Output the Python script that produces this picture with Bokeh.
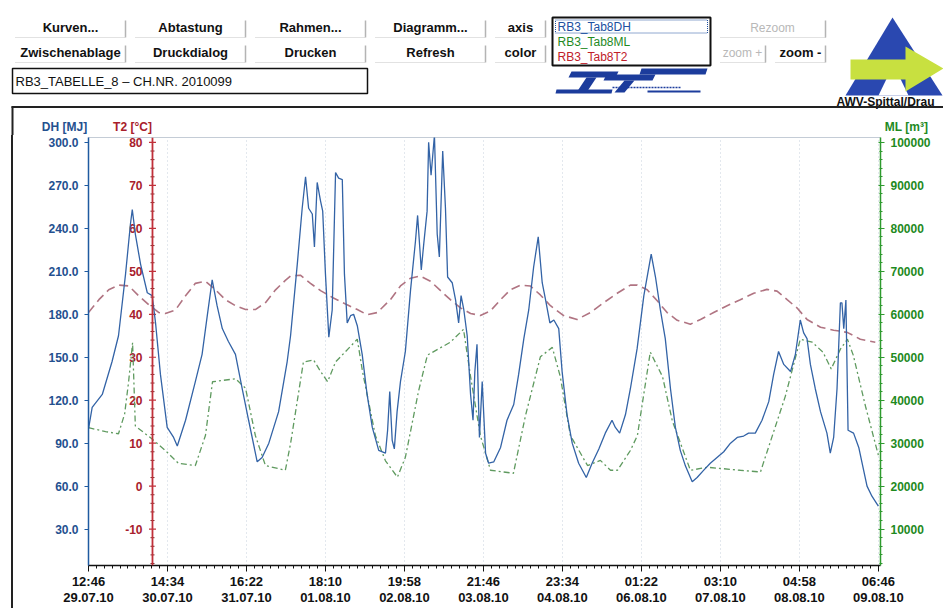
import numpy as np
from bokeh.plotting import figure
from bokeh.models import Range1d, LinearAxis, FixedTicker, Span, PrintfTickFormatter
from bokeh.layouts import column
from bokeh.embed import file_html
from bokeh.resources import INLINE
from bokeh.core.properties import value

FONT = value("Liberation Sans")

# ---------------- data (time in hours since 29.07.10 12:46) ----------------
dh_hours = [0, 1.2, 4.5, 7.7, 9.8, 12.1, 13.7, 14.3, 15.3, 17.0, 19.2, 20.8, 21.9, 23.5, 25.7, 27.8, 29.0,
            31.7, 34.9, 37.1, 38.8, 40.4, 42.0, 43.7, 45.7, 48.0, 50.2, 52.3, 55.1, 56.7, 58.9, 62.1, 64.9,
            66.0, 68.2, 69.8, 70.9, 71.9, 73.1, 73.8, 74.7, 75.8, 76.5, 77.4, 78.5, 79.6, 80.7, 81.7, 82.9,
            83.6, 84.5, 85.6, 86.6, 87.8, 89.4, 91.0, 92.7, 94.8, 97.0, 97.7, 98.4, 99.2, 99.9, 100.8, 101.9,
            103.5, 105.2, 106.8, 107.5, 108.7, 109.5, 110.6, 111.1, 111.9, 113.0, 113.9, 114.6, 115.7, 116.6,
            117.3, 118.8, 119.9, 120.9, 121.7, 122.6, 123.7, 124.8, 125.6, 126.2, 126.9, 127.7, 128.6, 129.7,
            130.7, 132.4, 134.6, 136.7, 138.9, 140.5, 142.2, 143.8, 145.4, 146.9, 148.2, 149.3, 150.7, 152.0,
            153.6, 154.7, 156.3, 158.0, 160.1, 162.6, 164.5, 166.7, 168.8, 171.0, 172.1, 173.5, 175.4, 177.0,
            179.2, 181.4, 183.8, 185.2, 186.8, 188.4, 190.1, 191.7, 193.3, 195.0, 197.2, 198.8, 200.9, 203.1,
            205.3, 207.5, 209.7, 211.9, 214.0, 215.6, 217.8, 220.0, 222.2, 223.8, 225.4, 227.1, 229.3, 230.9,
            232.5, 233.6, 234.7, 235.8, 237.4, 239.1, 241.2, 242.3, 243.4, 244.5, 245.6, 246.1, 246.7, 247.4,
            248.1, 249.9, 251.6, 253.2, 254.3, 255.9, 258.0]
dh_values = [100, 115, 124, 147, 165, 208, 243, 253, 236, 215, 195, 193, 174, 138, 101, 94, 88,
             106, 133, 152, 179, 204, 186, 170, 161, 152, 128, 106, 77, 80, 90, 112, 147,
             165, 215, 254, 276, 254, 250, 227, 272, 259, 252, 208, 164, 183, 279, 275, 274,
             208, 174, 179, 180, 172, 152, 124, 101, 85, 83, 99, 126, 92, 86, 112, 133,
             154, 197, 231, 249, 211, 229, 252, 300, 277, 305, 236, 220, 294, 254,
             206, 202, 190, 174, 193, 183, 165, 124, 106, 140, 159, 94, 133, 83,
             76, 77, 87, 106, 117, 138, 163, 183, 213, 234, 202, 190, 174, 176,
             170, 140, 110, 90, 76, 66, 76, 86, 97, 106, 101, 97, 110, 128,
             156, 193, 222, 206, 183, 163, 128, 101, 85, 74, 63, 66, 71, 76,
             80, 84, 90, 94, 95, 97, 97, 106, 119, 138, 154, 145, 140, 152,
             176, 167, 163, 145, 128, 112, 97, 83, 94, 128, 188, 188, 170, 190,
             99, 97, 87, 71, 60, 53, 46]

t2_hours = [0, 3.4, 6.6, 9.9, 13.2, 16.4, 19.7, 23.0, 25.1, 28.4, 31.7, 34.9, 38.2, 41.5, 44.7, 48.0,
            51.3, 54.5, 57.8, 61.1, 64.3, 66.0, 69.2, 72.5, 75.8, 80.0, 84.5, 87.8, 91.0, 94.3, 98.6,
            101.9, 105.2, 108.4, 111.7, 115.0, 118.2, 121.5, 124.8, 128.0, 131.3, 134.6, 137.8, 141.1,
            144.3, 147.6, 150.9, 155.2, 159.6, 163.9, 168.3, 172.7, 177.0, 179.2, 182.5, 185.7, 189.0,
            192.3, 196.6, 199.9, 204.2, 208.6, 212.9, 217.3, 221.6, 224.9, 228.2, 231.4, 234.7, 239.1,
            243.4, 247.8, 252.1, 257.0]
t2_values = [40.4, 43.4, 45.7, 46.8, 46.6, 44.3, 42.2, 40.4, 40.2, 41.0, 44.3, 47.2, 47.7, 45.7, 43.4, 42.0,
             41.1, 41.1, 42.7, 45.7, 47.9, 48.9, 49.1, 47.2, 45.5, 43.8, 42.2, 41.1, 39.9, 40.4, 43.4,
             46.6, 48.4, 48.9, 47.7, 45.5, 43.4, 41.5, 40.2, 39.7, 40.8, 43.4, 45.7, 46.8,
             46.6, 44.5, 42.0, 39.7, 38.8, 40.4, 42.7, 44.9, 46.8, 46.8, 45.7, 43.2, 40.4,
             38.6, 37.7, 38.8, 40.4, 42.0, 43.4, 44.9, 45.8, 45.4, 43.4, 41.5, 38.8, 37.0,
             36.3, 35.8, 34.2, 33.5]

ml_hours = [0, 5.6, 9.8, 11.8, 13.1, 14.4, 15.3, 20.2, 25.1, 29.4, 34.9, 38.2, 40.5, 48.0, 51.3, 54.5,
            57.8, 64.3, 66.0, 70.2, 73.5, 75.8, 78.1, 80.7, 87.8, 89.5, 93.7, 97.0, 100.9, 103.5, 107.8,
            110.7, 118.2, 122.5, 124.8, 128.0, 131.3, 138.8, 142.7, 147.6, 151.5, 154.1, 157.4, 163.0,
            167.2, 170.5, 172.8, 177.0, 179.3, 183.5, 187.5, 190.7, 196.6, 202.2, 212.9, 219.5, 220.4,
            227.6, 232.5, 236.4, 239.9, 242.6, 245.6, 247.9, 249.8, 253.8, 258.0]
ml_values = [33600, 32700, 32200, 36800, 44300, 53400, 34000, 31300, 28300, 25300, 24800, 31800, 44300,
             45000, 42800, 31800, 24800, 23700, 29900, 48900, 49400, 46700, 44300, 48900, 54200, 46700,
             31800, 25900, 22100, 26700, 42100, 50500, 53500, 56500, 45500, 31800, 23700, 23000, 36300,
             50100, 52300, 45500, 31800, 24800, 26000, 23700, 23700, 28300, 31800, 51200, 45500, 35200,
             23700, 24400, 23700, 23300, 25300, 40900, 54200, 53500, 51200, 47300, 51900, 54200, 50500,
             38600, 27200]

x_tick_hours = [0, 25.8, 51.6, 77.4, 103.2, 129.0, 154.8, 180.6, 206.4, 232.2, 258.0]
x_tick_labels = ["12:46\n29.07.10", "14:34\n30.07.10", "16:22\n31.07.10", "18:10\n01.08.10",
                 "19:58\n02.08.10", "21:46\n03.08.10", "23:34\n04.08.10", "01:22\n06.08.10",
                 "03:10\n07.08.10", "04:58\n08.08.10", "06:46\n09.08.10"]
dh_ticks = [30, 60, 90, 120, 150, 180, 210, 240, 270, 300]
t2_ticks = [-10, 0, 10, 20, 30, 40, 50, 60, 70, 80]
t2_labels = ["-10", "0", "10", "20", "30", "40", "50", "60", "70", "80"]
ml_ticks = [10000, 20000, 30000, 40000, 50000, 60000, 70000, 80000, 90000, 100000]

series_names = ["RB3_Tab8DH", "RB3_Tab8ML", "RB3_Tab8T2"]
series_colors = ["#2050a0", "#1f8a1f", "#c0202a"]

# ---------------- layout constants ----------------
W = 943
T2_AXIS_H = 20.9            # position of the inner T2 axis (hours)
C_DH_AX = "#1f5aa0"
C_DH_TXT = "#24508f"
C_T2_AX = "#c0303a"
C_T2_TXT = "#a8202c"
C_ML_AX = "#2e9a2e"
C_ML_TXT = "#1e8a1e"
C_LOGO = "#1c3c9c"

# ---------------- top UI panel (pixel coordinates) ----------------
ui = figure(width=W, height=135, x_range=Range1d(0, 943), y_range=Range1d(135, 0),
            output_backend="svg", toolbar_location=None, min_border=0,
            x_axis_type=None, y_axis_type=None, outline_line_color=None,
            background_fill_color="white", border_fill_color="white")
ui.frame_align = False
ui.grid.visible = False

btn_row1 = ["Kurven...", "Abtastung", "Rahmen...", "Diagramm...", "axis"]
btn_row2 = ["Zwischenablage", "Druckdialog", "Drucken", "Refresh", "color"]
bx0 = [15, 135, 255, 375, 495]
bx1 = [125, 245, 365, 485, 545]
for (ytop, ybot, labels) in [(17, 37, btn_row1), (42, 62, btn_row2)]:
    ui.segment(x0=bx0, y0=[ybot] * 5, x1=bx1, y1=[ybot] * 5, line_color="#c4c4c4", line_dash="1 1")
    ui.segment(x0=bx1, y0=[ytop + 3] * 5, x1=bx1, y1=[ybot] * 5, line_color="#b4b4b4", line_width=1.5)
    ui.text(x=[(a + b) / 2 for a, b in zip(bx0, bx1)], y=[(ytop + ybot) / 2] * 5, text=labels,
            text_font=FONT, text_font_style="bold", text_font_size="13px",
            text_align="center", text_baseline="middle", text_color="#111111")

# zoom buttons
ui.segment(x0=[720, 720, 775], y0=[37, 62, 62], x1=[825, 765, 825], y1=[37, 62, 62],
           line_color="#c4c4c4", line_dash="1 1")
ui.segment(x0=[825, 765, 825], y0=[20, 45, 45], x1=[825, 765, 825], y1=[37, 62, 62],
           line_color="#b4b4b4", line_width=1.5)
ui.text(x=[772, 742], y=[27, 52], text=["Rezoom", "zoom +"], text_font=FONT, text_font_size="12px",
        text_align="center", text_baseline="middle", text_color="#b8b8b8")
ui.text(x=[800], y=[52], text=["zoom -"], text_font=FONT, text_font_style="bold", text_font_size="13px",
        text_align="center", text_baseline="middle", text_color="#111111")

# title box
ui.quad(left=[12], right=[367], top=[68], bottom=[93], fill_color=None, line_color="#111111", line_width=1.5)
ui.text(x=[15], y=[80.5], text=["RB3_TABELLE_8 \u2013 CH.NR. 2010099"], text_font=FONT,
        text_font_size="13px", text_align="left", text_baseline="middle", text_color="#111111")

# series list box
ui.quad(left=[552], right=[710], top=[17], bottom=[65], fill_color="white", line_color="#111111", line_width=2)
ui.quad(left=[555], right=[707], top=[19.5], bottom=[32.5], fill_color=None, line_color="#2050a0",
        line_dash="1 1")
ui.text(x=[557, 557, 557], y=[26, 41, 56], text=series_names, text_color=series_colors,
        text_font=FONT, text_font_size="12px", text_align="left", text_baseline="middle")

# TT logo (approximation with slanted heavy bars)
ui.patches(xs=[[571, 618, 615, 568], [586, 596, 586, 576],
               [606, 655, 652, 603], [624, 634, 624, 614],
               [641, 707, 705, 639], [556, 612, 611, 555]],
           ys=[[71, 71, 77, 77], [77, 77, 92, 92],
               [74, 74, 80, 80], [80, 80, 92, 92],
               [68, 68, 74, 74], [89, 89, 93, 93]],
           fill_color=C_LOGO, line_color=None)
ui.segment(x0=[612], y0=[87], x1=[680], y1=[87], line_color=C_LOGO, line_width=1.5, line_dash="2 1")
ui.segment(x0=[647], y0=[91], x1=[700], y1=[91], line_color=C_LOGO, line_width=2)

# AWV logo (approximation)
ui.patch(x=[845, 892, 942], y=[95, 17, 95], fill_color="#2a48b0", line_color=None)
ui.patch(x=[878, 893, 908], y=[95, 64, 95], fill_color="white", line_color=None)
ui.patch(x=[850, 905, 905, 943, 905, 905, 850], y=[59, 59, 46, 68, 91, 79, 79],
         fill_color="#c8e040", line_color=None)
ui.text(x=[836], y=[101], text=["AWV-Spittal/Drau"], text_font=FONT, text_font_style="bold",
        text_font_size="12px", text_align="left", text_baseline="middle", text_color="#111111")

# separator line and left frame edge of the chart area
ui.segment(x0=[11], y0=[106.5], x1=[943], y1=[106.5], line_color="#222222", line_width=2)
ui.segment(x0=[12], y0=[106], x1=[12], y1=[135], line_color="#222222", line_width=2)

# axis titles
ui.text(x=[64, 132, 906], y=[126, 126, 126], text=["DH [MJ]", "T2 [\u00b0C]", "ML [m\u00b3]"],
        text_color=[C_DH_TXT, C_T2_TXT, C_ML_TXT], text_font=FONT, text_font_style="bold",
        text_font_size="12px", text_align="center", text_baseline="middle")

# ---------------- chart ----------------
p = figure(width=W, height=473, x_range=Range1d(0, 258.7), y_range=Range1d(4.6, 303.4),
           output_backend="svg", toolbar_location=None,
           min_border_left=88, min_border_right=63, min_border_top=2, min_border_bottom=36,
           background_fill_color="white", border_fill_color=None,
           outline_line_color="#c4ccd6", outline_line_width=1)
p.frame_align = False
p.styles = {"background": "linear-gradient(to right, #ffffff 0px, #ffffff 11px, #222222 11px, "
                          "#222222 13px, #ffffff 13px, #ffffff 100%)"}
p.extra_y_ranges = {"t2": Range1d(-18.47, 81.15), "ml": Range1d(1534, 101150)}

# x axis
p.xaxis.ticker = FixedTicker(ticks=x_tick_hours, minor_ticks=[round(i * 2.58, 3) for i in range(101)])
p.xaxis.major_label_overrides = dict(zip(x_tick_hours, x_tick_labels))
p.xaxis.axis_line_color = "#111111"
p.xaxis.axis_line_width = 1.5
p.xaxis.major_tick_line_color = "#111111"
p.xaxis.minor_tick_line_color = "#111111"
p.xaxis.major_tick_out = 6
p.xaxis.major_tick_in = 0
p.xaxis.minor_tick_out = 3
p.xaxis.minor_tick_in = 0
p.xaxis.major_label_standoff = 2
p.xaxis.major_label_text_font = "Liberation Sans"
p.xaxis.major_label_text_font_style = "bold"
p.xaxis.major_label_text_font_size = "13px"
p.xaxis.major_label_text_line_height = 1.1
p.xaxis.major_label_text_color = "#111111"

# DH axis (left)
p.yaxis.ticker = FixedTicker(ticks=dh_ticks)
p.yaxis.formatter = PrintfTickFormatter(format="%.1f")
p.yaxis.axis_line_color = C_DH_AX
p.yaxis.axis_line_width = 1.5
p.yaxis.major_tick_line_color = C_DH_AX
p.yaxis.major_tick_out = 4
p.yaxis.major_tick_in = 0
p.yaxis.minor_tick_line_color = None
p.yaxis.major_label_standoff = 6
p.yaxis.major_label_text_font = "Liberation Sans"
p.yaxis.major_label_text_font_style = "bold"
p.yaxis.major_label_text_font_size = "12px"
p.yaxis.major_label_text_color = C_DH_TXT

# ML axis (right)
ml_axis = LinearAxis(y_range_name="ml",
                     ticker=FixedTicker(ticks=ml_ticks, minor_ticks=list(range(2000, 101000, 2000))),
                     formatter=PrintfTickFormatter(format="%d"))
ml_axis.axis_line_color = C_ML_AX
ml_axis.axis_line_width = 1.5
ml_axis.major_tick_line_color = C_ML_AX
ml_axis.minor_tick_line_color = C_ML_AX
ml_axis.major_tick_out = 4
ml_axis.major_tick_in = 2
ml_axis.minor_tick_out = 2
ml_axis.minor_tick_in = 1
ml_axis.major_label_standoff = 6
ml_axis.major_label_text_font = "Liberation Sans"
ml_axis.major_label_text_font_style = "bold"
ml_axis.major_label_text_font_size = "12px"
ml_axis.major_label_text_color = C_ML_TXT
p.add_layout(ml_axis, "right")

# grid
p.xgrid.ticker = FixedTicker(ticks=x_tick_hours)
p.xgrid.grid_line_color = "#c6d0dc"
p.xgrid.grid_line_dash = "1 3"
p.ygrid.visible = False

# inner T2 axis
p.add_layout(Span(location=T2_AXIS_H, dimension="height", line_color=C_T2_AX, line_width=1.8))
p.scatter(x=[T2_AXIS_H] * len(t2_ticks), y=t2_ticks, y_range_name="t2", marker="dash",
          size=7, line_color=C_T2_AX, line_width=1.2)
t2_minor = [v for v in range(-18, 81, 2) if v % 10 != 0]
p.scatter(x=[T2_AXIS_H] * len(t2_minor), y=t2_minor, y_range_name="t2", marker="dash",
          size=4, line_color="#7a2a2a", line_width=1)
p.text(x=[T2_AXIS_H] * len(t2_ticks), y=t2_ticks, text=t2_labels, y_range_name="t2",
       x_offset=-10, text_align="right", text_baseline="middle", text_font=FONT,
       text_font_style="bold", text_font_size="12px", text_color=C_T2_TXT)

# series
p.line(ml_hours, ml_values, y_range_name="ml", line_color="#5f9a5f", line_width=1.3, line_dash="6 3 2 3")
p.line(t2_hours, t2_values, y_range_name="t2", line_color="#b07482", line_width=1.6, line_dash="9 5")
p.line(dh_hours, dh_values, line_color="#3363a6", line_width=1.3)

layout = column(ui, p, spacing=0)
open("out.html", "w").write(file_html(layout, INLINE))
